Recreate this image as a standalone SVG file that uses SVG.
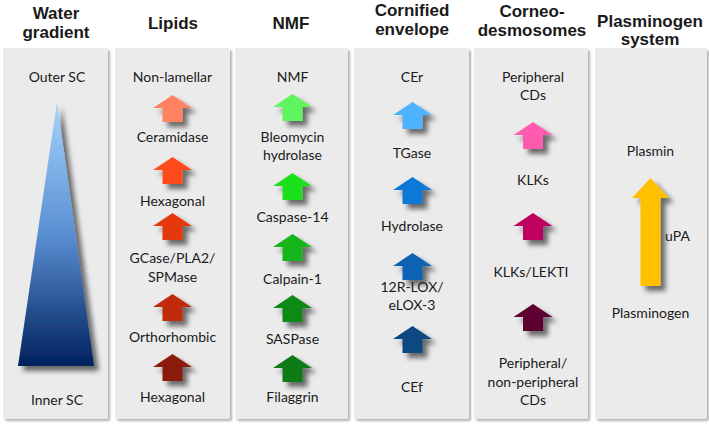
<svg xmlns="http://www.w3.org/2000/svg" xmlns:xlink="http://www.w3.org/1999/xlink" width="709" height="426" viewBox="0 0 709 426">
<defs>
<style>
.hd{font-family:"Liberation Sans",Arial,sans-serif;font-weight:bold;font-size:17px;fill:#1a1a1a;text-anchor:middle}
.tx{font-family:Lato,"Liberation Sans",sans-serif;font-size:14px;fill:#1a1a1a;text-anchor:middle}
.pn{fill:#ebebeb;filter:url(#psh)}
</style>
<filter id="psh" x="-10%" y="-10%" width="130%" height="130%">
<feGaussianBlur in="SourceAlpha" stdDeviation="1.2"/>
<feOffset dx="1.5" dy="2" result="b"/>
<feFlood flood-color="#000" flood-opacity="0.3"/>
<feComposite in2="b" operator="in" result="s"/>
<feMerge><feMergeNode in="s"/><feMergeNode in="SourceGraphic"/></feMerge>
</filter>
<filter id="ash" x="-50%" y="-50%" width="220%" height="220%">
<feGaussianBlur in="SourceAlpha" stdDeviation="2.6"/>
<feOffset dx="5" dy="5" result="b"/>
<feFlood flood-color="#000" flood-opacity="0.55"/>
<feComposite in2="b" operator="in" result="s"/>
<feMerge><feMergeNode in="s"/><feMergeNode in="SourceGraphic"/></feMerge>
</filter>
<linearGradient id="tg" x1="0" y1="0" x2="0" y2="1">
<stop offset="0" stop-color="#a6d4fc"/>
<stop offset="0.5" stop-color="#5a8fd2"/>
<stop offset="1" stop-color="#00215e"/>
</linearGradient>
<path id="arr" d="M0,0 L19.5,13 L10,13 L10,27 L-10,27 L-10,13 L-19.5,13 Z"/>
</defs>

<g id="headers">
<text class="hd" x="56" y="18.5">Water</text>
<text class="hd" x="56" y="37.5">gradient</text>
<text class="hd" x="173" y="29">Lipids</text>
<text class="hd" x="291" y="29">NMF</text>
<text class="hd" x="412" y="15.5">Cornified</text>
<text class="hd" x="412" y="34.5">envelope</text>
<text class="hd" x="532" y="16.5">Corneo-</text>
<text class="hd" x="532" y="35.5">desmosomes</text>
<text class="hd" x="650" y="26.5">Plasminogen</text>
<text class="hd" x="650" y="45">system</text>
</g>

<g id="panels">
<rect class="pn" x="3" y="48" width="105" height="371" rx="2"/>
<rect class="pn" x="115" y="48" width="115" height="371" rx="2"/>
<rect class="pn" x="235" y="48" width="113" height="371" rx="2"/>
<rect class="pn" x="354" y="48" width="115" height="371" rx="2"/>
<rect class="pn" x="474" y="48" width="114" height="371" rx="2"/>
<rect class="pn" x="595" y="48" width="112" height="371" rx="2"/>
</g>

<g id="water">
<text class="tx" x="57" y="82">Outer SC</text>
<polygon points="57,102 94,366 18,366" fill="url(#tg)" filter="url(#ash)"/>
<text class="tx" x="57" y="405">Inner SC</text>
</g>

<g id="lipids">
<text class="tx" x="172.5" y="82">Non-lamellar</text>
<use xlink:href="#arr" x="172.5" y="95" fill="#ff8363" filter="url(#ash)"/>
<text class="tx" x="172.5" y="142">Ceramidase</text>
<use xlink:href="#arr" x="172.5" y="157" fill="#ff4b1e" filter="url(#ash)"/>
<text class="tx" x="172.5" y="206">Hexagonal</text>
<use xlink:href="#arr" x="172.5" y="213" fill="#e5370d" filter="url(#ash)"/>
<text class="tx" x="172.5" y="263">GCase/PLA2/</text>
<text class="tx" x="172.5" y="281.5">SPMase</text>
<use xlink:href="#arr" x="172.5" y="294" fill="#c0290a" filter="url(#ash)"/>
<text class="tx" x="172.5" y="341.5">Orthorhombic</text>
<use xlink:href="#arr" x="172.5" y="354" fill="#8b1a0a" filter="url(#ash)"/>
<text class="tx" x="172.5" y="401.5">Hexagonal</text>
</g>

<g id="nmf">
<text class="tx" x="292.5" y="82">NMF</text>
<use xlink:href="#arr" x="292.5" y="94" fill="#5ef55e" filter="url(#ash)"/>
<text class="tx" x="292.5" y="142">Bleomycin</text>
<text class="tx" x="292.5" y="160">hydrolase</text>
<use xlink:href="#arr" x="292.5" y="173" fill="#1ee01e" filter="url(#ash)"/>
<text class="tx" x="292.5" y="222">Caspase-14</text>
<use xlink:href="#arr" x="292.5" y="234" fill="#19b51b" filter="url(#ash)"/>
<text class="tx" x="292.5" y="284">Calpain-1</text>
<use xlink:href="#arr" x="292.5" y="295" fill="#0f8a14" filter="url(#ash)"/>
<text class="tx" x="292.5" y="344">SASPase</text>
<use xlink:href="#arr" x="292.5" y="355" fill="#0c7a12" filter="url(#ash)"/>
<text class="tx" x="292.5" y="402">Filaggrin</text>
</g>

<g id="cornified">
<text class="tx" x="412" y="82">CEr</text>
<use xlink:href="#arr" x="412.5" y="102" fill="#4db2ff" filter="url(#ash)"/>
<text class="tx" x="412" y="158">TGase</text>
<use xlink:href="#arr" x="412.5" y="177" fill="#0a78d6" filter="url(#ash)"/>
<text class="tx" x="412" y="231">Hydrolase</text>
<use xlink:href="#arr" x="412.5" y="253" fill="#0a62b4" filter="url(#ash)"/>
<text class="tx" x="412" y="292">12R-LOX/</text>
<text class="tx" x="412" y="310">eLOX-3</text>
<use xlink:href="#arr" x="412.5" y="326" fill="#0b4880" filter="url(#ash)"/>
<text class="tx" x="412" y="392">CEf</text>
</g>

<g id="corneodesmosomes">
<text class="tx" x="533" y="82">Peripheral</text>
<text class="tx" x="533" y="100">CDs</text>
<use xlink:href="#arr" x="533" y="122" fill="#ff5cb0" filter="url(#ash)"/>
<text class="tx" x="533" y="185">KLKs</text>
<use xlink:href="#arr" x="533" y="213" fill="#c0005f" filter="url(#ash)"/>
<text class="tx" x="531" y="277">KLKs/LEKTI</text>
<use xlink:href="#arr" x="533" y="304" fill="#5e0030" filter="url(#ash)"/>
<text class="tx" x="533" y="368">Peripheral/</text>
<text class="tx" x="533" y="386.5">non-peripheral</text>
<text class="tx" x="533" y="404.5">CDs</text>
</g>

<g id="plasminogen">
<text class="tx" x="650.5" y="156">Plasmin</text>
<path d="M650.5,178 L669,198 L660.5,198 L660.5,286 L640.5,286 L640.5,198 L632,198 Z" fill="#ffc000" filter="url(#ash)"/>
<text class="tx" x="665" y="241" style="text-anchor:start">uPA</text>
<text class="tx" x="650.5" y="318">Plasminogen</text>
</g>
</svg>
